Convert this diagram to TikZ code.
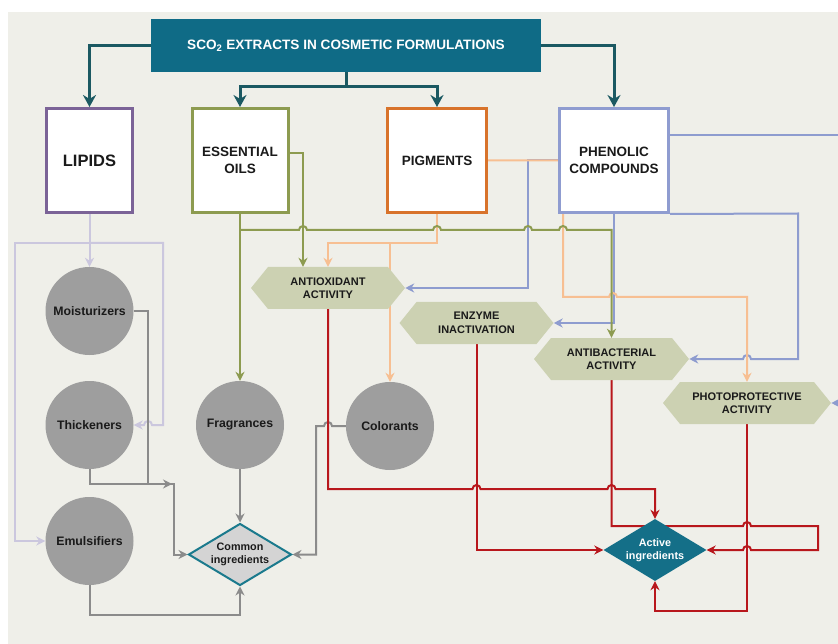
\documentclass[tikz,border=0pt]{standalone}
\usepackage{fontspec}
\setmainfont{Liberation Sans}
\usepackage{xcolor}
\usetikzlibrary{shapes.geometric, shapes.symbols, arrows.meta, positioning}
\pgfdeclarelayer{back}
\pgfdeclarelayer{lines}
\pgfsetlayers{back,lines,main}

\definecolor{bgc}{HTML}{EFEFE9}
\definecolor{titlec}{HTML}{0F6B86}
\definecolor{headc}{HTML}{1B5962}
\definecolor{lipidc}{HTML}{7B6397}
\definecolor{oilc}{HTML}{8D9B50}
\definecolor{pigc}{HTML}{D8732B}
\definecolor{phenc}{HTML}{8F9CD0}
\definecolor{lavc}{HTML}{CBC7DE}
\definecolor{pigln}{HTML}{F7BF92}
\definecolor{phenln}{HTML}{8E9CCF}
\definecolor{redln}{HTML}{B8171C}
\definecolor{grayln}{HTML}{8B8B8B}
\definecolor{circgray}{HTML}{9E9E9E}
\definecolor{hexfill}{HTML}{CCD1B2}
\definecolor{commonc}{HTML}{D4D4D4}
\definecolor{commonbd}{HTML}{1B7A8D}
\definecolor{activec}{HTML}{146F88}
\definecolor{textc}{HTML}{1A1A1A}

\begin{document}
\begin{tikzpicture}[x=1pt, y=-1pt, >={Stealth[length=9pt,width=9pt]},
    catbox/.style={draw, line width=3pt, fill=white, minimum height=104pt, inner sep=0pt,
      align=center, text=textc, font=\bfseries\fontsize{13.5}{16.5}\selectfont},
    agent/.style={circle, fill=circgray, minimum size=88pt, inner sep=0pt, text=textc,
      font=\bfseries\fontsize{12.3}{14}\selectfont},
    effect/.style={signal, signal to=east and west, signal pointer angle=102, fill=hexfill,
      minimum width=154pt, minimum height=42pt, inner sep=0pt, align=center, text=textc,
      font=\bfseries\fontsize{11}{13.5}\selectfont},
    hub/.style={diamond, aspect=1.66, minimum width=103pt, minimum height=62pt, inner sep=0pt,
      align=center, font=\bfseries\fontsize{10.8}{13}\selectfont},
    headln/.style={draw=headc, line width=3pt, ->, >={Stealth[length=12pt,width=13pt]}},
    colln/.style={line width=2pt, ->}]
    \useasboundingbox (0,0) rectangle (838,644);
    % Background
    \begin{pgfonlayer}{back}
        \fill[white] (0,0) rectangle (838,644);
        \fill[bgc] (8,12) rectangle (838,644);
    \end{pgfonlayer}
    % Title and groups
    \node[fill=titlec, minimum width=390pt, minimum height=53pt, text=white,
      font=\bfseries\fontsize{13.6}{15}\selectfont] (title) at (346,45.5)
      {SCO\textsubscript{2} EXTRACTS IN COSMETIC FORMULATIONS};
    \node[catbox, draw=lipidc, minimum width=86pt, font=\bfseries\fontsize{16.5}{19}\selectfont]
      (lipids) at (89.5,160.5) {LIPIDS};
    \node[catbox, draw=oilc, minimum width=96pt] (oils) at (240,160.5) {ESSENTIAL\\OILS};
    \node[catbox, draw=pigc, minimum width=99pt] (pigments) at (437,160.5) {PIGMENTS};
    \node[catbox, draw=phenc, minimum width=109pt] (phenolic) at (614,160.5) {PHENOLIC\\COMPOUNDS};
    % Common ingredients
    \node[agent] (moist) at (89.5,311) {Moisturizers};
    \node[agent] (thick) at (89.5,425) {Thickeners};
    \node[agent] (emuls) at (89.5,541) {Emulsifiers};
    \node[agent] (fragr) at (240,425) {Fragrances};
    \node[agent] (color) at (390,426) {Colorants};
    \node[hub, fill=commonc, draw=commonbd, line width=2pt, text=textc] (common) at (240,554.5) {Common\\ingredients};
    % Activities
    \node[effect] (antiox) at (328,288) {ANTIOXIDANT\\ACTIVITY};
    \node[effect] (enzyme) at (476.5,323) {ENZYME\\INACTIVATION};
    \node[effect, minimum width=155pt] (antibac) at (611.5,359) {ANTIBACTERIAL\\ACTIVITY};
    \node[effect, minimum width=168pt] (photo) at (747,403) {PHOTOPROTECTIVE\\ACTIVITY};
    \node[hub, fill=activec, text=white] (active) at (655,550) {Active\\ingredients};
    % Split points
    \coordinate (topsplit) at (346,87);
    \coordinate (lipsplit) at (89.5,243);
    \coordinate (oilsplit) at (240,230);
    \coordinate (pigsplit) at (390,243);
    \coordinate (merge) at (172,484);

    \begin{pgfonlayer}{lines}
    % From the title
    \draw[headln] (title.west) -| (lipids.north);
    \draw[headln] (title.east) -| (phenolic.north);
    \draw[draw=headc, line width=3pt] (title.south) -- (topsplit);
    \draw[headln] (topsplit) -| (oils.north);
    \draw[headln] (topsplit) -| (pigments.north);
    % Lipids
    \draw[colln, lavc] (lipids.south) -- (moist.north);
    \draw[colln, lavc] (lipsplit) -- (15,243) |- (emuls.west);
    \draw[colln, lavc] (lipsplit) -- (163,243) -- (163,425) -- (152,425) arc (0:180:4pt) -- (thick.east);
    % Common ingredients
    \draw[colln, grayln] (moist.east) -| (148,484) -- (merge);
    \draw[colln, grayln] (thick.south) -- ++(0,15) -- ++(84,0) |- (common.west);
    \draw[colln, grayln] (fragr.south) -- (common.north);
    \draw[colln, grayln] (emuls.south) -- ++(0,30) -| (common.south);
    \draw[colln, grayln] (color.west) -- (332,426) arc (0:180:4pt) -- (316,426) |- (common.east);
    % Phenolic compounds
    \draw[colln, phenln] (phenolic.west) -- ++(-30,0) |- (antiox.east);
    \draw[colln, phenln] (phenolic.south) |- (enzyme.east);
    \draw[colln, phenln] (phenolic.south east) -- (798,213.5) -- (798,359) -- (751,359)
      arc (0:180:4pt) -- (antibac.east);
    \draw[colln, phenln] ([yshift=25.5pt]phenolic.east) -- (846,135) -- (846,403) -- (photo.east);
    % Pigments
    \draw[colln, pigln] (pigments.south) -- ++(0,29) -| (antiox.north);
    \draw[colln, pigln] (pigsplit) -- (color.north);
    \draw[colln, pigln] (pigments.east) -- (563,160.5) -- (563,297) -- (609,297)
      arc (180:0:4pt) -| (photo.north);
    % Essential oils
    \draw[colln, oilc] ([yshift=7pt]oils.east) -| ([xshift=-25pt]antiox.north);
    \draw[colln, oilc] (oils.south) -- (fragr.north);
    \draw[colln, oilc] (oilsplit) -- (299,230) arc (180:0:4pt) -- (433,230) arc (180:0:4pt)
      -- (524,230) arc (180:0:4pt) -- (559,230) arc (180:0:4pt) -| (antibac.north);
    % Active ingredients
    \draw[colln, redln] (antiox.south) -- (328,489) -- (472.5,489) arc (180:0:4pt)
      -- (607.5,489) arc (180:0:4pt) -| (active.north);
    \draw[colln, redln] (enzyme.south) |- (active.west);
    \draw[colln, redln] (antibac.south) -- (611.5,526) -- (743,526) arc (180:0:4pt)
      -- (818,526) -- (818,550) -- (751,550) arc (0:180:4pt) -- (active.east);
    \draw[colln, redln] (photo.south) -- (747,611) -| (active.south);
    \end{pgfonlayer}
\end{tikzpicture}
\end{document}
